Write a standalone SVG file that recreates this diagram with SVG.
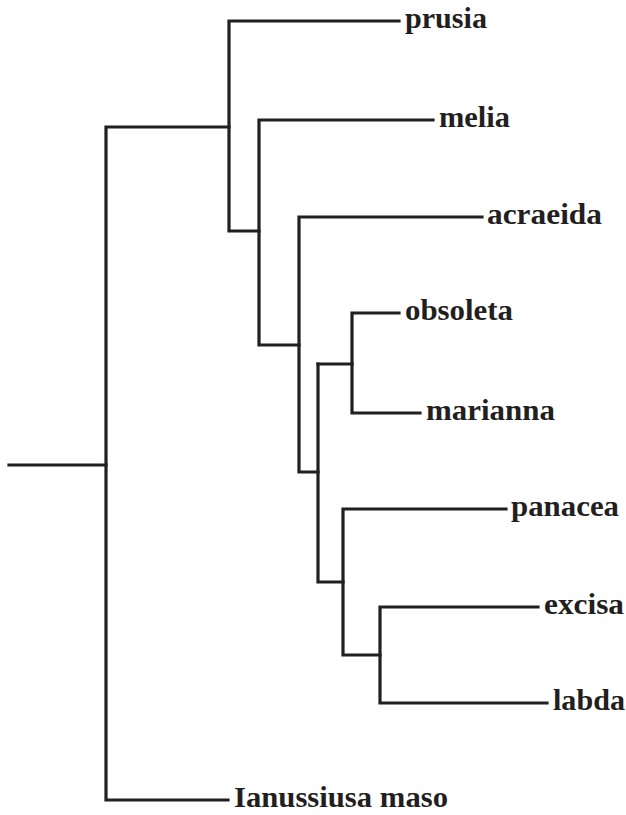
<svg xmlns="http://www.w3.org/2000/svg" width="626" height="815" viewBox="0 0 626 815">
<style>
.e{fill:none;stroke:#231f20;stroke-width:3.2;stroke-linecap:square;stroke-linejoin:miter}
.t{font-family:"Liberation Serif","Times New Roman",serif;font-weight:bold;font-size:29px;fill:#231f20}
</style>
<rect width="626" height="815" fill="#fff"/>
<g id="connectors">
<path class="e" d="M9,465 H106"/>
<path class="e" d="M228,800 H106 V127 H229"/>
<path class="e" d="M399,21 H229 V231 H259"/>
<path class="e" d="M433,120 H259 V345 H299"/>
<path class="e" d="M482,217 H299 V472 H318"/>
<path class="e" d="M318,364 V582 H343"/>
<path class="e" d="M399,313 H352 V413 H420"/>
<path class="e" d="M318,364 H352"/>
<path class="e" d="M506,509 H343 V655 H380"/>
<path class="e" d="M538,607 H380 V703 H547"/>
</g>
<g id="prusia"><text class="t" x="405" y="28" textLength="82" lengthAdjust="spacingAndGlyphs">prusia</text></g>
<g id="melia"><text class="t" x="439" y="127" textLength="71" lengthAdjust="spacingAndGlyphs">melia</text></g>
<g id="acraeida"><text class="t" x="487" y="224" textLength="115" lengthAdjust="spacingAndGlyphs">acraeida</text></g>
<g id="obsoleta"><text class="t" x="405" y="320" textLength="108" lengthAdjust="spacingAndGlyphs">obsoleta</text></g>
<g id="marianna"><text class="t" x="426" y="420" textLength="129" lengthAdjust="spacingAndGlyphs">marianna</text></g>
<g id="panacea"><text class="t" x="511" y="516" textLength="108" lengthAdjust="spacingAndGlyphs">panacea</text></g>
<g id="excisa"><text class="t" x="544" y="614" textLength="80" lengthAdjust="spacingAndGlyphs">excisa</text></g>
<g id="labda"><text class="t" x="553" y="710" textLength="72" lengthAdjust="spacingAndGlyphs">labda</text></g>
<g id="ianussiusa"><text class="t" x="234" y="807" textLength="214" lengthAdjust="spacingAndGlyphs">Ianussiusa maso</text></g>
</svg>
